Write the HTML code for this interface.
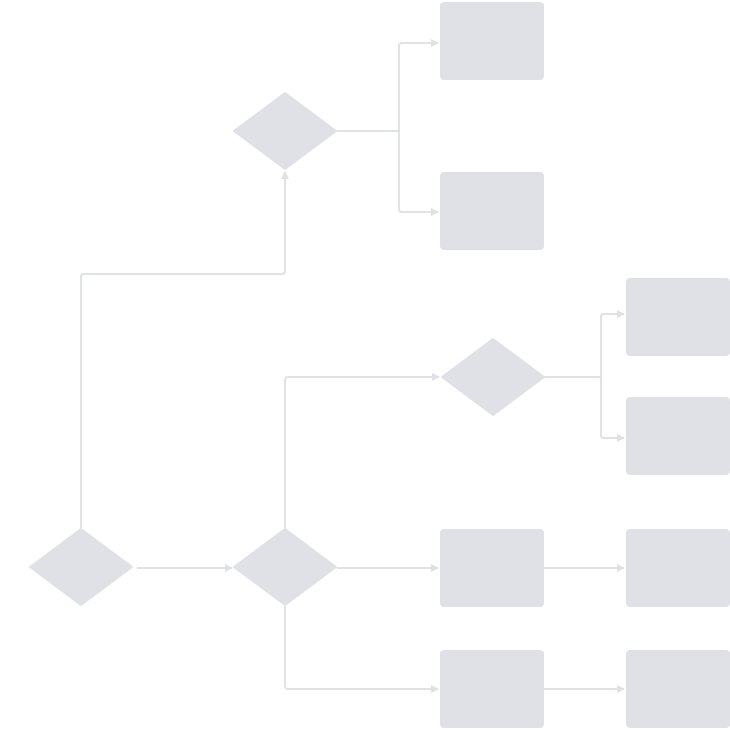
<!DOCTYPE html>
<html><head><style>html,body{margin:0;padding:0;background:#fff;}svg{display:block;}</style></head>
<body>
<svg width="730" height="730" viewBox="0 0 730 730" xmlns="http://www.w3.org/2000/svg">
<defs>
<marker id="a" markerWidth="8" markerHeight="8" refX="7" refY="4" orient="auto" markerUnits="userSpaceOnUse">
<path d="M0,0 L8,4 L0,8 z" fill="#dfe1e6"/>
</marker>
</defs>
<g fill="#dfe1e6">
<rect x="440" y="2" width="104" height="78" rx="4"/>
<rect x="440" y="172" width="104" height="78" rx="4"/>
<rect x="626" y="278" width="104" height="78" rx="4"/>
<rect x="626" y="397" width="104" height="78" rx="4"/>
<rect x="440" y="529" width="104" height="78" rx="4"/>
<rect x="626" y="529" width="104" height="78" rx="4"/>
<rect x="440" y="650" width="104" height="78" rx="4"/>
<rect x="626" y="650" width="104" height="78" rx="4"/>
<path d="M285,93 L336,131 L285,169 L234,131 Z" stroke="#dfe1e6" stroke-width="2" stroke-linejoin="round"/>
<path d="M493,339 L544,377 L493,415 L442,377 Z" stroke="#dfe1e6" stroke-width="2" stroke-linejoin="round"/>
<path d="M81,529 L132,567 L81,605 L30,567 Z" stroke="#dfe1e6" stroke-width="2" stroke-linejoin="round"/>
<path d="M285,529 L336,567 L285,605 L234,567 Z" stroke="#dfe1e6" stroke-width="2" stroke-linejoin="round"/>
</g>
<g fill="none" stroke="#e0e2e6" stroke-width="2" stroke-linejoin="round">
<path d="M81,528 V277 Q81,274 84,274 H282 Q285,274 285,271 V172" marker-end="url(#a)"/>
<path d="M137,568 H232" marker-end="url(#a)"/>
<path d="M285,528 V380 Q285,377 288,377 H439" marker-end="url(#a)"/>
<path d="M337,568 H438" marker-end="url(#a)"/>
<path d="M285,606 V686 Q285,689 288,689 H438" marker-end="url(#a)"/>
<path d="M337,131 H399"/>
<path d="M399,131 V46 Q399,43 402,43 H438" marker-end="url(#a)"/>
<path d="M399,131 V209 Q399,212 402,212 H438" marker-end="url(#a)"/>
<path d="M545,377 H601"/>
<path d="M601,377 V317 Q601,314 604,314 H624" marker-end="url(#a)"/>
<path d="M601,377 V435 Q601,438 604,438 H624" marker-end="url(#a)"/>
<path d="M544,568 H624" marker-end="url(#a)"/>
<path d="M544,689 H624" marker-end="url(#a)"/>
</g>
</svg>
</body></html>
